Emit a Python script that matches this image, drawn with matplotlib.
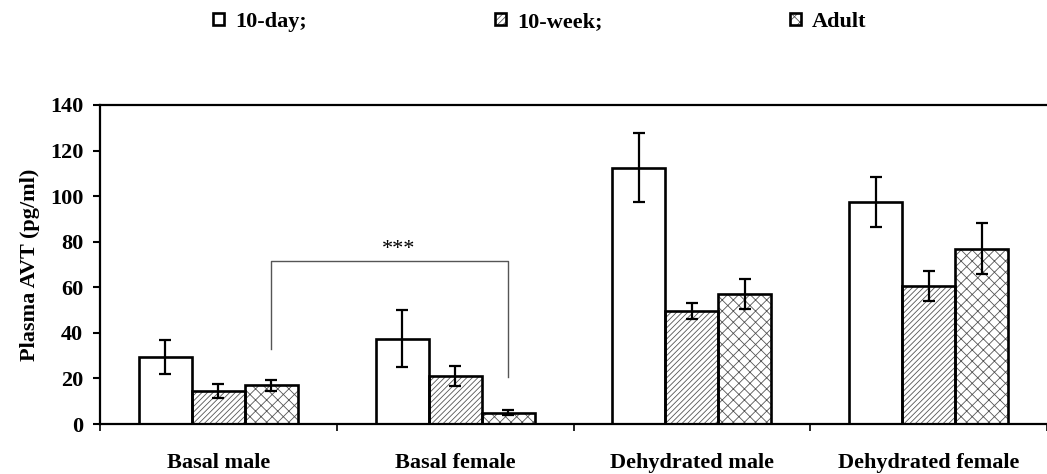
import matplotlib
matplotlib.use("Agg")
import matplotlib.pyplot as plt
import numpy as np

plt.rcParams["font.family"] = ["Liberation Serif", "DejaVu Serif"]
plt.rcParams["font.weight"] = "bold"
plt.rcParams["axes.labelweight"] = "bold"
plt.rcParams["hatch.linewidth"] = 0.6

# data
groups = ["Basal male", "Basal female", "Dehydrated male", "Dehydrated female"]
series = ["10-day;", "10-week;", "Adult"]
day10 = [29.5, 37.5, 112.5, 97.5]
day10_err = [7.5, 12.5, 15.0, 11.0]
week10 = [14.5, 21.0, 49.5, 60.5]
week10_err = [3.0, 4.5, 3.5, 6.5]
adult = [17.0, 5.0, 57.0, 77.0]
adult_err = [2.5, 1.0, 6.5, 11.0]

values = [day10, week10, adult]
errors = [day10_err, week10_err, adult_err]
hatches = [None, "//////", "xxx"]

fig = plt.figure(figsize=(10.47, 4.74), dpi=100)
ax = fig.add_axes([100 / 1047, 50 / 474, 947 / 1047, 319 / 474])

x = np.arange(len(groups)) + 0.5
width = 0.224
handles = []
for i, (vals, errs, h) in enumerate(zip(values, errors, hatches)):
    pos = x + (i - 1) * width
    fill = ax.bar(pos, vals, width, color="white", hatch=h,
                  edgecolor="#555555", linewidth=0, zorder=2)
    edge = ax.bar(pos, vals, width, fill=False, edgecolor="black",
                  linewidth=1.9, zorder=3)
    ax.errorbar(pos, vals, yerr=errs, fmt="none", ecolor="black",
                elinewidth=1.6, capsize=4.5, capthick=1.6, zorder=4)
    handles.append((fill, edge))

# significance bracket between basal male adult and basal female adult
bx0 = x[0] + width
bx1 = x[1] + width
ax.plot([bx0, bx0, bx1, bx1], [33, 71.5, 71.5, 20.5], color="#555555",
        linewidth=1.0, zorder=1)
ax.text(1.26, 72.5, "***", ha="center", va="bottom", fontsize=16,
        fontweight="normal")

ax.set_xlim(0, 4)
ax.set_ylim(0, 140)
ax.set_yticks(np.arange(0, 141, 20))
ax.set_xticks(np.arange(0, 5))
ax.set_xticklabels([])
ax.set_xticks(x, minor=True)
ax.set_xticklabels(groups, minor=True, fontsize=16)
ax.tick_params(axis="x", which="minor", length=0, pad=21)
ax.tick_params(axis="x", which="major", length=5, width=1.2, direction="out")
ax.tick_params(axis="y", length=5, width=1.5, labelsize=16, pad=7)
ax.set_ylabel("Plasma AVT (pg/ml)", fontsize=16, labelpad=7)

for s in ["left", "bottom", "top"]:
    ax.spines[s].set_linewidth(1.6)
ax.spines["right"].set_visible(False)

# legend entries spread across the top
legend_x = [213, 495, 790]
for hd, name, lx in zip(handles, series, legend_x):
    fig.legend([hd], [name], loc="center left",
               bbox_to_anchor=(lx / 1047, 1 - 22 / 474), frameon=False,
               fontsize=16, handlelength=0.5, handleheight=0.5,
               handletextpad=0.5, borderpad=0, borderaxespad=0)

plt.savefig("out.png", dpi=100)
